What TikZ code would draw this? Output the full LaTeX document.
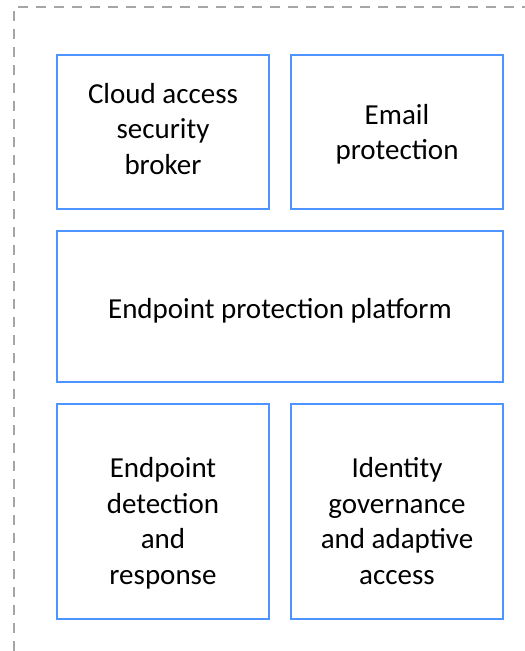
\documentclass[tikz,border=0pt]{standalone}
\usepackage{fontspec}
\setmainfont{Carlito}
\definecolor{boxblue}{RGB}{77,148,255}
\definecolor{dashgray}{RGB}{166,166,166}
\begin{document}
\begin{tikzpicture}[x=1pt,y=-1pt,
  blockbox/.style={draw=boxblue,line width=2.4pt},
  blocktext/.style={align=center,font=\fontsize{29}{35.5}\selectfont,text=black,inner sep=0pt,anchor=base}]
\useasboundingbox (0,0) rectangle (525,651);
\draw[dashgray,line width=2.4pt,dash pattern=on 10pt off 8pt] (14,651) -- (14,7) -- (525,7);
\draw[blockbox] (57,55) rectangle (269,209);
\draw[blockbox] (291,55) rectangle (503,209);
\draw[blockbox] (57,231) rectangle (503,382);
\draw[blockbox] (57,404) rectangle (269,619);
\draw[blockbox] (291,404) rectangle (503,619);
\node[blocktext] (cas) at (163,174) {Cloud access\\security\\broker};
\node[blocktext] (email) at (397,159.5) {Email\\protection};
\node[blocktext] (epp) at (280,318) {Endpoint protection platform};
\node[blocktext] (edr) at (163,584) {Endpoint\\detection\\and\\response};
\node[blocktext] (iga) at (397,584) {Identity\\governance\\and adaptive\\access};
\end{tikzpicture}
\end{document}
